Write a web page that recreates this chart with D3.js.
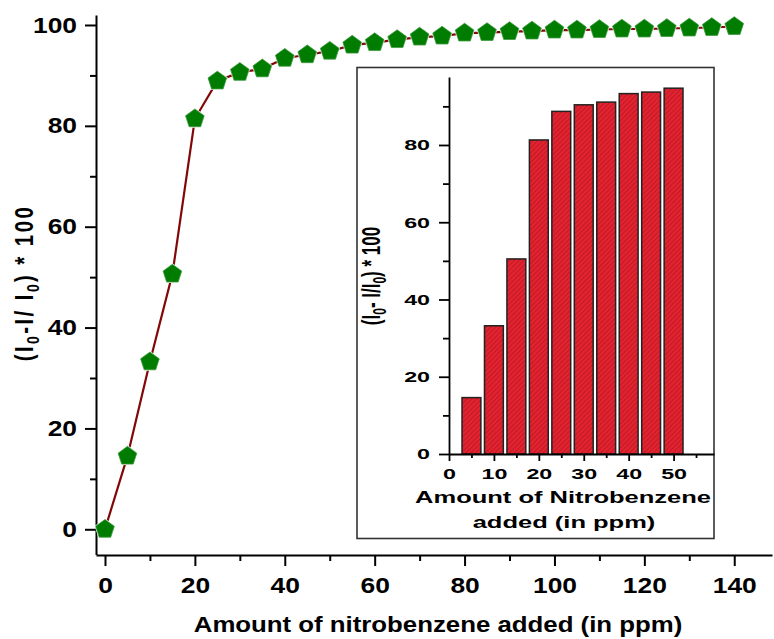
<!DOCTYPE html>
<html>
<head>
<meta charset="utf-8">
<script src="https://cdn.jsdelivr.net/npm/d3@7/dist/d3.min.js"></script>
<style>
body { margin: 0; background: #fff; }
text { font-family: Arial, "Liberation Sans", sans-serif; font-weight: bold; fill: #000; }
</style>
</head>
<body>
<div id="chart"></div>
<script>
/*
Data
 */
var ppm = [0, 5, 10, 15, 20, 25, 30, 35, 40, 45, 50, 55, 60, 65, 70,
    75, 80, 85, 90, 95, 100, 105, 110, 115, 120, 125, 130, 135, 140];
var quenching = [0, 14.5, 33.2, 50.6, 81.4, 88.9, 90.6, 91.3, 93.4, 94.1, 94.8, 96.0, 96.5, 97.1, 97.6,
    97.8, 98.4, 98.5, 98.7, 98.8, 99.0, 99.0, 99.1, 99.2, 99.2, 99.3, 99.4, 99.5, 99.7];

var insetPpm = [5, 10, 15, 20, 25, 30, 35, 40, 45, 50];
var insetQuenching = [14.6, 33.2, 50.5, 81.3, 88.7, 90.4, 91.1, 93.3, 93.7, 94.7];

var xTicks = [0, 20, 40, 60, 80, 100, 120, 140];
var xMinorTicks = [10, 30, 50, 70, 90, 110, 130];
var yTicks = [0, 20, 40, 60, 80, 100];
var yMinorTicks = [10, 30, 50, 70, 90];

var insetXTicks = [0, 10, 20, 30, 40, 50];
var insetXMinorTicks = [5, 15, 25, 35, 45, 55];
var insetYTicks = [0, 20, 40, 60, 80];
var insetYMinorTicks = [10, 30, 50, 70, 90];

var svg = d3.select("#chart")
    .append("svg")
    .attr("width", 774)
    .attr("height", 639);

svg.append("rect").attr("width", 774).attr("height", 639).attr("fill", "#fff");

// the figure is a bit wider than it is tall, text looks stretched sideways
function stretchX(sel, k) {
    sel.each(function() {
        var t = d3.select(this);
        var x = +t.attr("x") || 0;
        t.attr("x", 0).attr("transform", "translate(" + x + ",0) scale(" + k + ",1)");
    });
}

function styleAxis(g, fontSize, width) {
    g.attr("font-size", fontSize).attr("font-family", null);
    g.select(".domain").attr("stroke", "#000").attr("stroke-width", width);
    g.selectAll(".tick line").attr("stroke", "#000").attr("stroke-width", width);
}

/*
Main plot
 */
var x = d3.scaleLinear().domain([-2, 148.4]).range([96, 772]);
var y = d3.scaleLinear().domain([-5, 102]).range([554.5, 14.9]);

var gx = svg.append("g")
    .attr("transform", "translate(0,555)")
    .call(d3.axisBottom(x).tickValues(xTicks).tickSize(11).tickSizeOuter(0).tickPadding(11));
styleAxis(gx, 22, 2);
stretchX(gx.selectAll("text"), 1.2);

var gxm = svg.append("g")
    .attr("transform", "translate(0,555)")
    .call(d3.axisBottom(x).tickValues(xMinorTicks).tickSize(6).tickFormat(""));
styleAxis(gxm, 22, 2);
gxm.select(".domain").remove();

var gy = svg.append("g")
    .attr("transform", "translate(96,0)")
    .call(d3.axisLeft(y).tickValues(yTicks).tickSize(11).tickSizeOuter(0).tickPadding(8));
styleAxis(gy, 22, 2);
stretchX(gy.selectAll("text"), 1.2);

var gym = svg.append("g")
    .attr("transform", "translate(96,0)")
    .call(d3.axisLeft(y).tickValues(yMinorTicks).tickSize(6).tickFormat(""));
styleAxis(gym, 22, 2);
gym.select(".domain").remove();

// axis titles
svg.append("text")
    .attr("transform", "translate(438,632) scale(1.2,1)")
    .attr("text-anchor", "middle")
    .attr("font-size", 21.5)
    .text("Amount of nitrobenzene added (in ppm)");

var yTitle = svg.append("text")
    .attr("transform", "translate(33,283) rotate(-90) scale(1,1.22)")
    .attr("text-anchor", "middle")
    .attr("font-size", 20.5)
    .attr("letter-spacing", 2.4);
yTitle.append("tspan").text("(I");
yTitle.append("tspan").attr("font-size", 14).attr("dy", 5).text("0");
yTitle.append("tspan").attr("dy", -5).text("-I/ I");
yTitle.append("tspan").attr("font-size", 14).attr("dy", 5).text("0");
yTitle.append("tspan").attr("dy", -5).text(") * 100");

// line + pentagon markers
var points = ppm.map(function(d, i) { return [d, quenching[i]]; });

svg.append("path")
    .datum(points)
    .attr("fill", "none")
    .attr("stroke", "#820808")
    .attr("stroke-width", 2.2)
    .attr("d", d3.line()
        .x(function(d) { return x(d[0]); })
        .y(function(d) { return y(d[1]); }));

var pentagon = {
    draw: function(context, size) {
        var r = Math.sqrt(size);
        for (var i = 0; i < 5; i++) {
            var a = -Math.PI / 2 + i * 2 * Math.PI / 5;
            if (i == 0) context.moveTo(r * Math.cos(a), r * Math.sin(a));
            else context.lineTo(r * Math.cos(a), r * Math.sin(a));
        }
        context.closePath();
    }
};

svg.append("g")
    .selectAll("path")
    .data(points)
    .enter()
    .append("path")
    .attr("transform", function(d) { return "translate(" + x(d[0]) + "," + y(d[1]) + ")"; })
    .attr("d", d3.symbol().type(pentagon).size(10 * 10))
    .attr("fill", "#007c00")
    .attr("stroke", "#fff")
    .attr("stroke-width", 1.5);

svg.append("g")
    .selectAll("path")
    .data(points)
    .enter()
    .append("path")
    .attr("transform", function(d) { return "translate(" + x(d[0]) + "," + y(d[1]) + ")"; })
    .attr("d", d3.symbol().type(pentagon).size(9.8 * 9.8))
    .attr("fill", "#007c00")
    .attr("stroke", "#3d9a3d")
    .attr("stroke-width", 0.8);

/*
Inset bar chart
 */
var defs = svg.append("defs");
var hatch = defs.append("pattern")
    .attr("id", "hatch")
    .attr("patternUnits", "userSpaceOnUse")
    .attr("width", 3.4)
    .attr("height", 3.4)
    .attr("patternTransform", "rotate(45)");
hatch.append("rect").attr("width", 3.4).attr("height", 3.4).attr("fill", "#e3222f");
hatch.append("line")
    .attr("x1", 0).attr("y1", 0).attr("x2", 0).attr("y2", 3.4)
    .attr("stroke", "#9a1620")
    .attr("stroke-width", 1);

svg.append("rect")
    .attr("x", 357)
    .attr("y", 67.5)
    .attr("width", 357)
    .attr("height", 471)
    .attr("fill", "#fff")
    .attr("stroke", "#333")
    .attr("stroke-width", 1.6);

var xi = d3.scaleLinear().domain([0, 59]).range([449, 714]);
var yi = d3.scaleLinear().domain([0, 97.6]).range([454, 77]);

svg.append("g")
    .selectAll("rect")
    .data(insetPpm)
    .enter()
    .append("rect")
    .attr("x", function(d) { return xi(d - 2.1); })
    .attr("width", function(d) { return xi(d + 2.1) - xi(d - 2.1); })
    .attr("y", function(d, i) { return yi(insetQuenching[i]); })
    .attr("height", function(d, i) { return yi(0) - yi(insetQuenching[i]); })
    .attr("fill", "url(#hatch)")
    .attr("stroke", "#222")
    .attr("stroke-width", 1.5);

var gxi = svg.append("g")
    .attr("transform", "translate(0,454)")
    .call(d3.axisBottom(xi).tickValues(insetXTicks).tickSize(7).tickSizeOuter(0).tickPadding(7));
styleAxis(gxi, 15.5, 1.8);
stretchX(gxi.selectAll("text"), 1.5);

var gxim = svg.append("g")
    .attr("transform", "translate(0,454)")
    .call(d3.axisBottom(xi).tickValues(insetXMinorTicks).tickSize(4).tickFormat(""));
styleAxis(gxim, 15.5, 1.8);
gxim.select(".domain").remove();

var gyi = svg.append("g")
    .attr("transform", "translate(449,0)")
    .call(d3.axisLeft(yi).tickValues(insetYTicks).tickSize(10).tickSizeOuter(0).tickPadding(9));
styleAxis(gyi, 15.5, 1.8);
stretchX(gyi.selectAll("text"), 1.5);

var gyim = svg.append("g")
    .attr("transform", "translate(449,0)")
    .call(d3.axisLeft(yi).tickValues(insetYMinorTicks).tickSize(6).tickFormat(""));
styleAxis(gyim, 15.5, 1.8);
gyim.select(".domain").remove();

svg.append("text")
    .attr("transform", "translate(563,503) scale(1.5,1)")
    .attr("text-anchor", "middle")
    .attr("font-size", 17)
    .text("Amount of Nitrobenzene");

svg.append("text")
    .attr("transform", "translate(564,528) scale(1.5,1)")
    .attr("text-anchor", "middle")
    .attr("font-size", 17)
    .text("added (in ppm)");

var yiTitle = svg.append("text")
    .attr("transform", "translate(380,276) rotate(-90) scale(1,1.5)")
    .attr("text-anchor", "middle")
    .attr("font-size", 17);
yiTitle.append("tspan").text("(I");
yiTitle.append("tspan").attr("font-size", 12).attr("dy", 4).text("0");
yiTitle.append("tspan").attr("dy", -4).text("- I/I");
yiTitle.append("tspan").attr("font-size", 12).attr("dy", 4).text("0");
yiTitle.append("tspan").attr("dy", -4).text(") * 100");
</script>
</body>
</html>
